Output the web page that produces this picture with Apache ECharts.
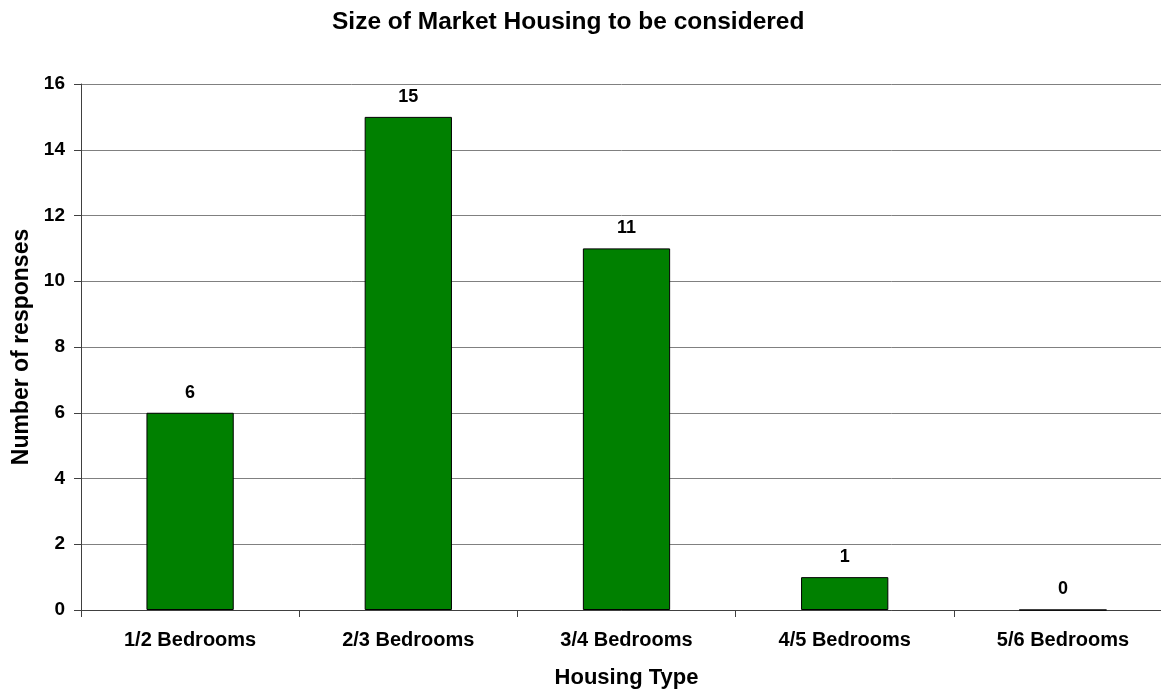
<!DOCTYPE html>
<html>
<head>
<meta charset="utf-8">
<script src="https://cdn.jsdelivr.net/npm/echarts@6/dist/echarts.min.js"></script>
<style>
  html, body { margin: 0; padding: 0; background: #fff; overflow: hidden; }
  #chart { width: 1161px; height: 691px; }
</style>
</head>
<body>
<div id="chart"></div>
<script>
// Housing size preferences: number of responses per bedroom band
const categories = ['1/2 Bedrooms', '2/3 Bedrooms', '3/4 Bedrooms', '4/5 Bedrooms', '5/6 Bedrooms'];
const responses = [6, 15, 11, 1, 0];

const FONT = 'Liberation Sans, Arial, sans-serif';

const chart = echarts.init(document.getElementById('chart'));
chart.setOption({
  animation: false,
  title: {
    text: 'Size of Market Housing to be considered',
    left: 327,
    top: 5,
    textStyle: { fontFamily: FONT, fontSize: 24.5, fontWeight: 'bold', color: '#000' }
  },
  // plot area runs slightly past the right edge of the canvas
  grid: {
    left: 81, top: 84, width: 1091, height: 526,
    containLabel: false,
    outerBoundsMode: 'none'
  },
  xAxis: {
    type: 'category',
    data: categories,
    name: 'Housing Type',
    nameLocation: 'middle',
    nameGap: 57,
    nameTextStyle: { fontFamily: FONT, fontSize: 22, fontWeight: 'bold', color: '#000' },
    axisLine: { lineStyle: { color: '#404040', width: 1 } },
    axisTick: { show: true, length: 7, lineStyle: { color: '#404040' } },
    axisLabel: { fontFamily: FONT, fontSize: 20, fontWeight: 'bold', color: '#000', margin: 20 }
  },
  yAxis: {
    type: 'value',
    min: 0,
    max: 16,
    interval: 2,
    name: 'Number of responses',
    nameLocation: 'middle',
    nameGap: 44,
    nameTextStyle: { fontFamily: FONT, fontSize: 23, fontWeight: 'bold', color: '#000' },
    axisLine: { show: true, lineStyle: { color: '#404040', width: 1 } },
    axisTick: { show: true, length: 7, lineStyle: { color: '#404040' } },
    axisLabel: { fontFamily: FONT, fontSize: 19, fontWeight: 'bold', color: '#000', margin: 16 },
    splitLine: { show: true, lineStyle: { color: '#808080', width: 1 } }
  },
  series: [{
    type: 'bar',
    data: responses,
    barWidth: '40%',
    itemStyle: { color: '#008000', borderColor: '#000', borderWidth: 1 },
    label: {
      show: true,
      position: 'top',
      distance: 11,
      fontFamily: FONT,
      fontSize: 18,
      fontWeight: 'bold',
      color: '#000'
    }
  }]
});
</script>
</body>
</html>
